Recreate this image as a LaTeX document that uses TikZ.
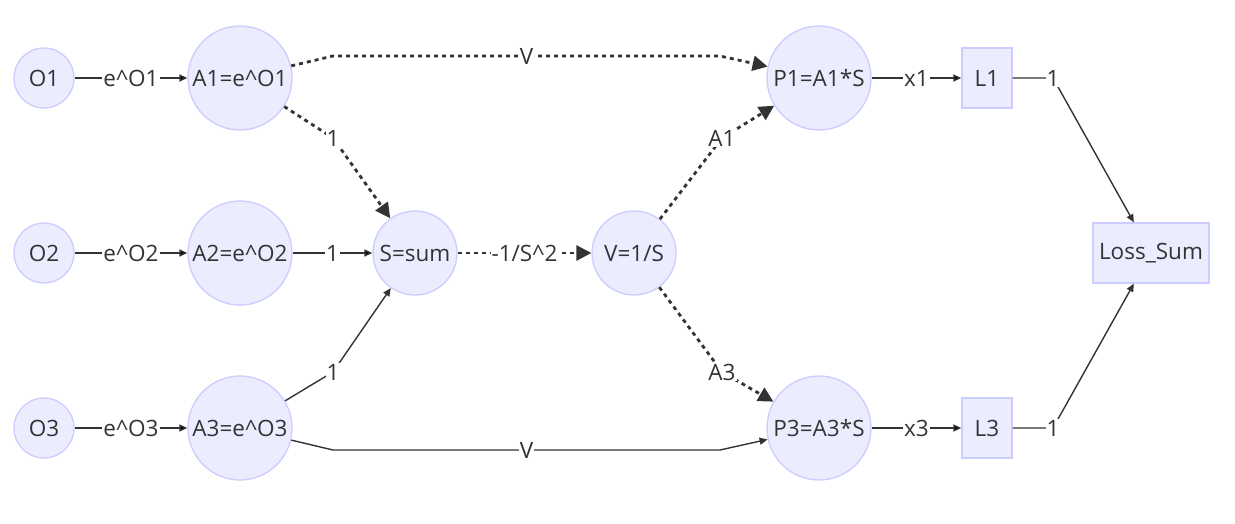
\documentclass[tikz,border=0pt]{standalone}
\usepackage{fontspec}
\setmainfont{Open Sans}
\usepackage{tikz}
\usetikzlibrary{positioning, arrows.meta}
\definecolor{nodefill}{HTML}{ECECFF}
\definecolor{nodeline}{HTML}{CCCCFF}
\definecolor{ink}{HTML}{333333}
\tikzset{x=1pt, y=-1pt, node distance=175pt, >={Triangle[length=8pt, width=7pt]},
	op/.style={circle, draw=nodeline, fill=nodefill, line width=1.3pt, inner sep=0pt, text=ink, font=\fontsize{22.5}{27}\selectfont},
	leaf/.style={op, minimum size=60pt}, mid/.style={op, minimum size=84pt}, big/.style={op, minimum size=104pt},
	box/.style={rectangle, draw=nodeline, fill=nodefill, line width=1.3pt, minimum height=60pt, text=ink, font=\fontsize{22.5}{27}\selectfont},
	lbl/.style={fill=white, inner sep=1pt, text=ink, font=\fontsize{22.5}{27}\selectfont},
	flow/.style={draw=ink, line width=1.4pt, ->},
	grad/.style={draw=ink, line width=2.8pt, dash pattern=on 4pt off 4pt, -{Triangle[length=15pt, width=15pt]}}}

\begin{document}
\begin{tikzpicture}
	\useasboundingbox (0,0) rectangle (1235,524);
	% inputs and exponentials
	\node[leaf] (O1) at (44,78) {O1};
	\node[leaf, below of=O1] (O2) {O2};
	\node[leaf, below of=O2] (O3) {O3};
	\node[big, right of=O1, node distance=196pt] (A1) {A1=e\textasciicircum O1};
	\node[big, right of=O2, node distance=196pt] (A2) {A2=e\textasciicircum O2};
	\node[big, right of=O3, node distance=196pt] (A3) {A3=e\textasciicircum O3};
	% sum and inverse
	\node[mid, right of=A2] (Sum) {S=sum};
	\node[mid, right of=Sum, node distance=219pt] (Inv) {V=1/S};
	% products and losses
	\node[big, right of=A1, node distance=579pt] (P1) {P1=A1*S};
	\node[big, right of=A3, node distance=579pt] (P3) {P3=A3*S};
	\node[box, minimum width=50pt, right of=P1, node distance=168pt] (L1) {L1};
	\node[box, minimum width=50pt, right of=P3, node distance=168pt] (L3) {L3};
	\node[box, minimum width=116pt, inner sep=0pt] (Loss Sum) at (1151,253) {Loss\_Sum};
	% bends
	\coordinate (A1 top) at (333,56);
	\coordinate (P1 top) at (720,56);
	\coordinate (A3 low) at (333,450);
	\coordinate (P3 low) at (720,450);
	\draw[flow]
		(O1) edge node[lbl]{e\textasciicircum O1} (A1)
		(O2) edge node[lbl]{e\textasciicircum O2} (A2)
		(O3) edge node[lbl]{e\textasciicircum O3} (A3)
		(A2) edge node[lbl]{1} (Sum)
		(P1) edge node[lbl]{x1} (L1)
		(P3) edge node[lbl]{x3} (L3);
	\draw[grad] (Sum) -- node[lbl]{-1/S\textasciicircum 2} (Inv);
	\draw[grad] (A1) -- (A1 top) -- node[lbl]{V} (P1 top) -- (P1);
	\draw[flow] (A3) -- (A3 low) -- node[lbl]{V} (P3 low) -- (P3);
	\draw[grad] (A1) -- (333,138) node[lbl]{1} -- (Sum);
	\draw[flow] (A3) -- (333,372) node[lbl]{1} -- (Sum);
	\draw[grad] (Inv) -- (722,138) node[lbl]{A1} -- (P1);
	\draw[grad] (Inv) -- (722,372) node[lbl]{A3} -- (P3);
	\draw[flow] (L1) -- (1053,78) node[lbl]{1} -- (Loss Sum);
	\draw[flow] (L3) -- (1053,428) node[lbl]{1} -- (Loss Sum);
\end{tikzpicture}
\end{document}
